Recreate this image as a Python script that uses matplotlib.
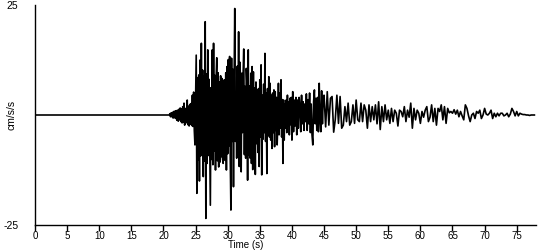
import numpy as np
import matplotlib
matplotlib.use('Agg')
import matplotlib.pyplot as plt

# quiet pre-event record (s, cm/s/s)
t_quiet = [0.0, 20.8]
acc_quiet = [0.0, 0.0]

# onset, 20.9 - 24.9 s, sampled every 0.1 s
onset_t0, onset_dt = 20.9, 0.1
acc_onset = [0.0, 0.3, -0.4, 0.5, -0.4, 0.6, -0.7, 0.8, -0.6, 0.9,
             -0.8, 1.0, -1.2, 1.1, -1.4, 1.3, -1.1, 1.6, -1.5, 1.4,
             -1.8, 1.9, -1.6, 2.7, -2.3, 1.5, -1.8, -1.6, 3.4, -2.2,
             2.0, -2.5, 2.4, -2.1, 2.6, -2.4, 4.5, -2.6, 5.2, -3.5,
             -6.8]

# strong motion, 25.0 - 39.9 s, every 0.1 s
strong_t0, strong_dt = 25.0, 0.1
acc_strong = [4.0, 13.6, -17.8, 8.5, -10.2, 9.1, -15.0, 12.5, -9.3, 16.3,
              -8.4, 10.2, -14.0, 8.8, -10.5, 21.2, -23.5, 9.3, -11.0, 14.8,
              -9.2, 8.1, -5.6, -20.5, 6.2, -10.1, 14.8, -11.3, 16.3, -8.2,
              9.0, -12.5, 8.4, 13.0, -10.4, 9.6, -11.8, 7.5, -10.7, 8.9,
              -9.5, 8.3, -10.0, -11.0, 7.9, 8.0, -10.3, 9.6, -12.5, 11.0,
              -8.8, 12.6, -7.0, 13.3, -9.9, -21.6, 12.9, -6.0, 10.4, -16.3,
              7.6, 24.2, -6.0, 5.2, -9.8, 11.1, -7.5, 18.9, -11.7, 12.0,
              8.0, -12.9, 9.5, -4.0, 9.2, 15.0, -9.0, 6.5, -9.8, 10.6,
              7.0, -14.8, 14.8, -9.0, 6.6, -9.8, 9.5, -11.0, 11.0, -12.4,
              9.8, -9.5, 6.1, -13.5, 7.5, -6.5, 5.7, -8.5, 6.0, -11.7,
              8.0, -5.0, 11.4, -13.6, 4.5, -5.5, 7.0, -4.0, 14.0, -6.0,
              5.0, -13.3, 6.0, -4.5, 8.7, -5.0, 7.2, -5.7, 4.5, -7.6,
              5.0, -4.0, 5.7, -7.2, 5.3, -3.5, 4.0, -6.8, -2.0, 7.2,
              -4.5, 5.0, -3.0, 8.0, -5.0, 3.5, -11.0, 3.4, -5.7, 2.5,
              -3.0, 3.4, -4.0, 4.5, -2.5, 3.0, -4.5, 3.8, -2.2, 4.0]

# early coda, 40.0 - 44.875 s, every 0.125 s
coda1_t0, coda1_dt = 40.0, 0.125
acc_coda1 = [-5.7, 5.3, -3.8, 3.4, -2.5, 4.0, -4.5, 3.4,
             -3.0, 4.0, 2.0, -3.8, 4.5, -2.0, 3.0, -3.5,
             2.5, -1.5, 4.8, -3.5, 3.5, -2.0, 5.0, -4.0,
             2.5, -4.5, -6.8, 3.0, 5.7, -2.0, 3.8, -3.5,
             4.0, -3.8, 7.2, -1.0, -3.8, 5.5, -2.0, 4.0]

# late coda, 45.0 - 77.75 s, every 0.25 s
coda2_t0, coda2_dt = 45.0, 0.25
acc_coda2 = [4.5, -2.7, 5.3, -2.3,
             3.8, 4.2, -3.9, -1.0,
             4.5, -1.9, 4.2, -3.0,
             -2.3, 1.9, -1.5, 2.7,
             -2.3, -1.5, 2.3, -1.9,
             3.4, -1.1, -1.5, 2.7,
             -1.5, 2.3, 1.1, -3.0,
             2.3, -1.5, 1.9, -1.1,
             2.3, -2.0, 3.0, -3.3,
             1.9, -1.5, 2.3, -1.1,
             1.1, -1.9, 1.5, -1.5,
             1.1, 0.4, -2.5, 1.1,
             0.8, -0.4, 1.9, -1.5,
             1.1, -0.5, 2.7, -3.0,
             1.5, -1.1, 1.1, 0.4,
             -1.9, 0.8, -0.5, 1.1,
             1.9, -1.5, -0.5, 2.3,
             -1.5, 1.5, -2.3, 1.5,
             0.8, 2.3, -1.1, 1.9,
             -1.9, 1.5, 0.5, 0.8,
             0.4, 1.2, 0.2, 1.1,
             -0.4, 0.8, -0.2, -1.1,
             2.3, 1.5, -0.2, -1.5,
             0.0, 0.4, -0.8, 0.8,
             0.4, 1.1, -0.8, 0.0,
             1.5, 0.2, 0.0, 0.4,
             1.1, -0.8, 0.4, -0.4,
             0.4, -0.2, 0.4, 0.4,
             -0.2, 0.0, 0.4, -0.4,
             0.2, 1.5, 0.8, -0.2,
             0.8, -0.2, 0.4, 0.2,
             0.1, 0.1, 0.0, 0.0,
             -0.1, 0.0, 0.0, 0.0]


def sample_times(t0, dt, values):
    return t0 + dt * np.arange(len(values))


t = np.concatenate([t_quiet,
                    sample_times(onset_t0, onset_dt, acc_onset),
                    sample_times(strong_t0, strong_dt, acc_strong),
                    sample_times(coda1_t0, coda1_dt, acc_coda1),
                    sample_times(coda2_t0, coda2_dt, acc_coda2)])
acc = np.concatenate([acc_quiet, acc_onset, acc_strong, acc_coda1, acc_coda2])

plt.rcParams['font.family'] = ['Liberation Sans', 'DejaVu Sans']
plt.rcParams['axes.unicode_minus'] = False

fig = plt.figure(figsize=(5.5, 2.5), dpi=100)
ax = fig.add_axes([35 / 550, 25 / 250, 501 / 550, 220 / 250])
ax.plot(t, acc, color='black', linewidth=1.2)

ax.set_xlim(0, 78)
ax.set_ylim(-25, 25)
ax.set_xticks(np.arange(0, 80, 5))
ax.set_yticks([-25, 25])
ax.tick_params(axis='x', direction='out', length=4, width=1, labelsize=7, pad=0.3)
ax.tick_params(axis='y', length=0, labelsize=7.5, pad=12)
ax.spines['top'].set_visible(False)
ax.spines['right'].set_visible(False)
ax.spines['left'].set_linewidth(1)
ax.spines['bottom'].set_linewidth(1)

ax.set_xlabel('Time (s)', fontsize=7, va='bottom')
ax.xaxis.set_label_coords(0.42, -0.113)
ax.set_ylabel('cm/s/s', fontsize=7.5)
ax.yaxis.set_label_coords(-0.037, 0.5)

fig.savefig('out.png', dpi=100)
